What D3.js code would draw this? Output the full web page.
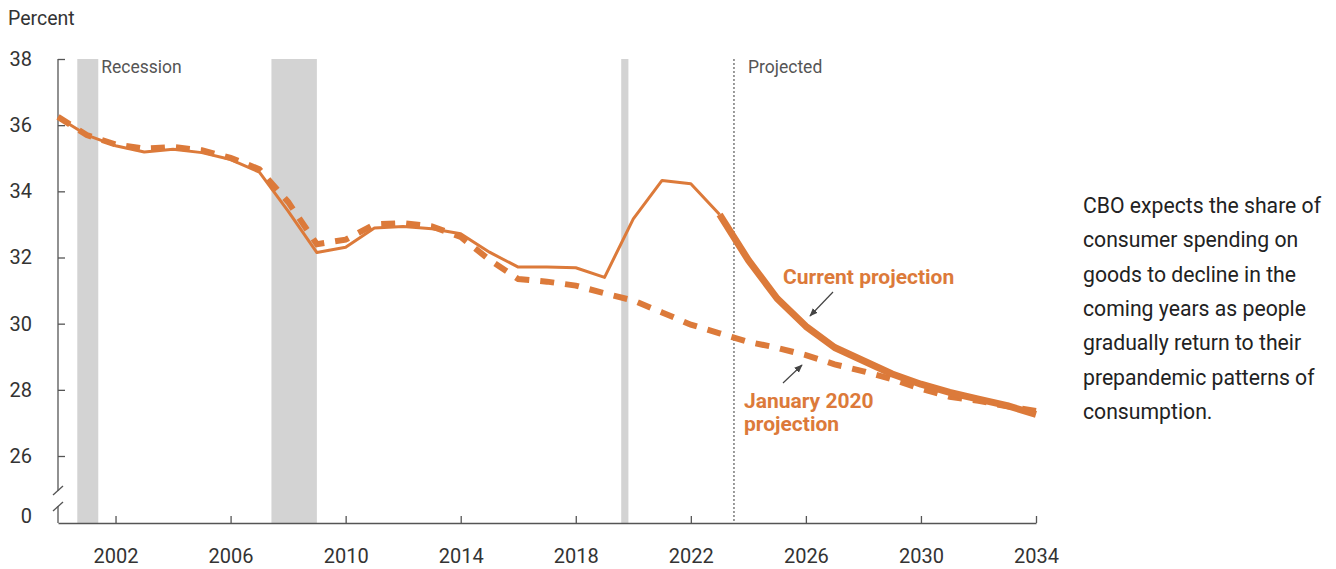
<!DOCTYPE html>
<html>
<head>
<meta charset="utf-8">
<script src="https://cdn.jsdelivr.net/npm/d3@7"></script>
<style>
  body { margin: 0; background: #fff; font-family: Roboto, "Open Sans", sans-serif; }
  #chart { width: 1336px; height: 569px; }
</style>
</head>
<body>
<div id="chart"></div>
<script>
// Goods share of consumer spending, percent (annual)
const histYears = d3.range(2000, 2024);
const histValues = [36.24, 35.70, 35.38, 35.19, 35.27, 35.17, 34.96, 34.58, 33.40, 32.15,
  32.31, 32.89, 32.94, 32.87, 32.72, 32.16, 31.71, 31.71, 31.69, 31.40,
  33.17, 34.33, 34.23, 33.30];

const projYears = d3.range(2023, 2035);
const projValues = [33.30, 31.92, 30.76, 29.92, 29.28, 28.88, 28.48, 28.17, 27.92, 27.72, 27.52, 27.26];

const jan2020Years = d3.range(2000, 2035);
const jan2020Values = [36.25, 35.70, 35.42, 35.29, 35.34, 35.24, 35.01, 34.67, 33.68, 32.40,
  32.54, 33.00, 33.04, 32.94, 32.62, 31.93, 31.35, 31.27, 31.15, 30.92,
  30.70, 30.34, 29.97, 29.71, 29.45, 29.27, 29.05, 28.77, 28.56, 28.32,
  28.03, 27.79, 27.67, 27.50, 27.36];

// recessions, in axis year units (label year = middle of that year)
const recessions = [[2000.67, 2001.40], [2007.42, 2009.00], [2019.58, 2019.83]];
const projectedStart = 2023.5;

const yTicks = [26, 28, 30, 32, 34, 36, 38];
const xTicks = [2002, 2006, 2010, 2014, 2018, 2022, 2026, 2030, 2034];

const noteLines = ["CBO expects the share of", "consumer spending on", "goods to decline in the",
  "coming years as people", "gradually return to their", "prepandemic patterns of", "consumption."];

const orange = "#dc7a3a";
const axisColor = "#555";

const svg = d3.select("#chart").append("svg")
  .attr("width", 1336)
  .attr("height", 569);

const x = d3.scaleLinear().domain([2000, 2034]).range([58, 1036]);
const y = d3.scaleLinear().domain([26, 38]).range([456, 59]);
const axisY0 = 523;

// recession bars
svg.append("g").selectAll("rect")
  .data(recessions)
  .join("rect")
  .attr("x", d => x(d[0]))
  .attr("width", d => x(d[1]) - x(d[0]))
  .attr("y", y(38))
  .attr("height", axisY0 - y(38))
  .attr("fill", "#d3d3d3");

svg.append("text")
  .attr("x", x(recessions[0][1]) + 3)
  .attr("y", 73)
  .attr("font-size", 17.5)
  .attr("fill", "#555")
  .text("Recession");

// projected divider
svg.append("line")
  .attr("x1", x(projectedStart)).attr("x2", x(projectedStart))
  .attr("y1", y(38)).attr("y2", axisY0)
  .attr("stroke", "#666")
  .attr("stroke-width", 1.3)
  .attr("stroke-dasharray", "2,2");

svg.append("text")
  .attr("x", x(projectedStart) + 14)
  .attr("y", 73)
  .attr("font-size", 17.5)
  .attr("fill", "#555")
  .text("Projected");

// y axis
const yAxis = svg.append("g")
  .attr("transform", "translate(58,0)")
  .call(d3.axisLeft(y).tickValues(yTicks).tickSize(-7).tickPadding(26).tickFormat(d3.format("d")));
yAxis.select(".domain").remove();
yAxis.selectAll(".tick line").attr("stroke", axisColor).attr("stroke-width", 1.3);
yAxis.selectAll(".tick text")
  .attr("font-family", "Roboto, sans-serif")
  .attr("font-size", 20)
  .attr("fill", "#333");

svg.append("line").attr("x1", 58).attr("x2", 58).attr("y1", y(38)).attr("y2", 491)
  .attr("stroke", axisColor).attr("stroke-width", 1.3);
svg.append("line").attr("x1", 58).attr("x2", 58).attr("y1", 506).attr("y2", axisY0)
  .attr("stroke", axisColor).attr("stroke-width", 1.3);
svg.append("line").attr("x1", 53).attr("y1", 495).attr("x2", 63).attr("y2", 486)
  .attr("stroke", axisColor).attr("stroke-width", 1.3);
svg.append("line").attr("x1", 53).attr("y1", 511).attr("x2", 63).attr("y2", 502)
  .attr("stroke", axisColor).attr("stroke-width", 1.3);

svg.append("text")
  .attr("x", 32).attr("y", 517)
  .attr("dy", "0.32em")
  .attr("text-anchor", "end")
  .attr("font-size", 20)
  .attr("fill", "#333")
  .text("0");

svg.append("text")
  .attr("x", 8).attr("y", 25)
  .attr("font-size", 19.5)
  .attr("fill", "#333")
  .text("Percent");

// x axis
const xAxis = svg.append("g")
  .attr("transform", `translate(0,${axisY0})`)
  .call(d3.axisBottom(x).tickValues(xTicks).tickSize(-7).tickSizeOuter(0).tickPadding(26).tickFormat(d3.format("d")));
xAxis.select(".domain").attr("stroke", axisColor).attr("stroke-width", 1.3);
xAxis.selectAll(".tick line").attr("stroke", axisColor).attr("stroke-width", 1.3);
xAxis.selectAll(".tick text")
  .attr("font-family", "Roboto, sans-serif")
  .attr("font-size", 20)
  .attr("fill", "#333");

// lines
const line = d3.line().x(d => x(d[0])).y(d => y(d[1]));

svg.append("path")
  .datum(d3.zip(jan2020Years, jan2020Values))
  .attr("d", line)
  .attr("fill", "none")
  .attr("stroke", orange)
  .attr("stroke-width", 6)
  .attr("stroke-dasharray", "14,11");

svg.append("path")
  .datum(d3.zip(histYears, histValues))
  .attr("d", line)
  .attr("fill", "none")
  .attr("stroke", orange)
  .attr("stroke-width", 3)
  .attr("stroke-linejoin", "round");

svg.append("path")
  .datum(d3.zip(projYears, projValues))
  .attr("d", line)
  .attr("fill", "none")
  .attr("stroke", orange)
  .attr("stroke-width", 7)
  .attr("stroke-linejoin", "round");

// annotations
svg.append("defs").append("marker")
  .attr("id", "arrow")
  .attr("viewBox", "0 0 10 10")
  .attr("refX", 9).attr("refY", 5)
  .attr("markerWidth", 7).attr("markerHeight", 7)
  .attr("orient", "auto")
  .append("path")
  .attr("d", "M0,1 L10,5 L0,9 Z")
  .attr("fill", "#444");

svg.append("text")
  .attr("x", 783).attr("y", 284)
  .attr("font-size", 21).attr("font-weight", "bold")
  .attr("fill", orange)
  .text("Current projection");

svg.append("line")
  .attr("x1", 833).attr("y1", 292).attr("x2", 810).attr("y2", 316)
  .attr("stroke", "#444").attr("stroke-width", 1.2)
  .attr("marker-end", "url(#arrow)");

svg.append("line")
  .attr("x1", 783).attr("y1", 383).attr("x2", 802).attr("y2", 365)
  .attr("stroke", "#444").attr("stroke-width", 1.2)
  .attr("marker-end", "url(#arrow)");

svg.append("text")
  .attr("x", 744).attr("y", 408)
  .attr("font-size", 21).attr("font-weight", "bold")
  .attr("fill", orange)
  .text("January 2020");
svg.append("text")
  .attr("x", 744).attr("y", 431)
  .attr("font-size", 21).attr("font-weight", "bold")
  .attr("fill", orange)
  .text("projection");

// side note
svg.append("g").selectAll("text")
  .data(noteLines)
  .join("text")
  .attr("x", 1083)
  .attr("y", (d, i) => 213 + i * 34.3)
  .attr("font-size", 21.2)
  .attr("fill", "#222")
  .text(d => d);
</script>
</body>
</html>
